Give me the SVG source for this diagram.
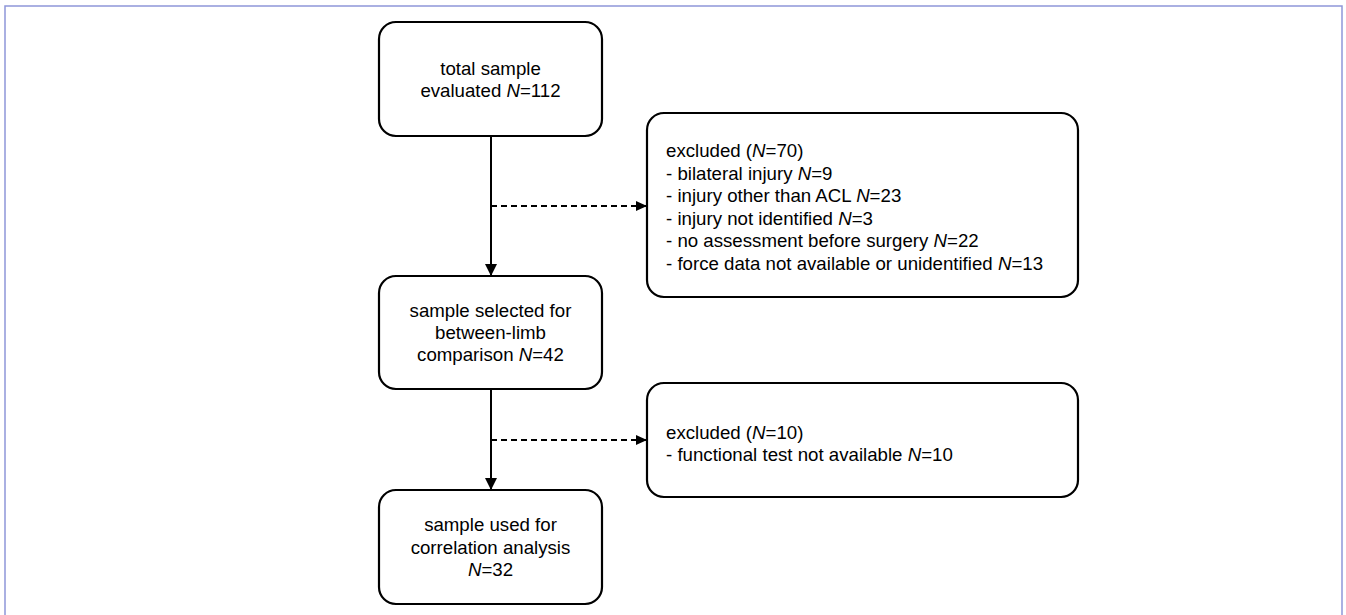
<svg xmlns="http://www.w3.org/2000/svg" width="1346" height="615" viewBox="0 0 1346 615">
  <style>
    .box { fill: #ffffff; stroke: #000000; stroke-width: 2.2; }
    .t { font-family: "Liberation Sans", Arial, sans-serif; font-size: 18.67px; fill: #000000; }
    .c { text-anchor: middle; }
    .i { font-style: italic; }
    .solid { stroke: #000000; stroke-width: 2; fill: none; }
    .dash { stroke: #000000; stroke-width: 2; fill: none; stroke-dasharray: 6 4; }
  </style>
  <defs>
    <marker id="ah" markerWidth="12" markerHeight="12" refX="12" refY="6" orient="auto" markerUnits="userSpaceOnUse">
      <path d="M0,0 L12,6 L0,12 Z" fill="#000000"/>
    </marker>
    <marker id="ahs" markerWidth="11" markerHeight="10" refX="11" refY="5" orient="auto" markerUnits="userSpaceOnUse">
      <path d="M0,0 L11,5 L0,10 Z" fill="#000000"/>
    </marker>
  </defs>
  <rect x="0" y="0" width="1346" height="615" fill="#ffffff"/>
  <rect x="5" y="6" width="1337" height="640" fill="none" stroke="#8e97d9" stroke-width="1.5"/>

  <g id="connectors">
    <line class="solid" x1="491" y1="136" x2="491" y2="276" marker-end="url(#ah)"/>
    <line class="dash" x1="491" y1="206" x2="647" y2="206" marker-end="url(#ahs)"/>
    <line class="solid" x1="491" y1="389" x2="491" y2="490" marker-end="url(#ah)"/>
    <line class="dash" x1="491" y1="440" x2="647" y2="440" marker-end="url(#ahs)"/>
  </g>

  <g id="total">
    <rect class="box" x="379" y="22" width="223" height="114" rx="17"/>
    <text class="t c" x="490.5" y="75">total sample</text>
    <text class="t c" x="490.5" y="97">evaluated <tspan class="i">N</tspan>=112</text>
  </g>

  <g id="excluded70">
    <rect class="box" x="647" y="113" width="431" height="184" rx="17"/>
    <text class="t" x="666" y="157">excluded (<tspan class="i">N</tspan>=70)</text>
    <text class="t" x="666" y="179.5">- bilateral injury <tspan class="i">N</tspan>=9</text>
    <text class="t" x="666" y="202">- injury other than ACL <tspan class="i">N</tspan>=23</text>
    <text class="t" x="666" y="224.5">- injury not identified <tspan class="i">N</tspan>=3</text>
    <text class="t" x="666" y="247">- no assessment before surgery <tspan class="i">N</tspan>=22</text>
    <text class="t" x="666" y="269.5">- force data not available or unidentified <tspan class="i">N</tspan>=13</text>
  </g>

  <g id="selected">
    <rect class="box" x="379" y="276" width="223" height="113" rx="17"/>
    <text class="t c" x="490.5" y="317">sample selected for</text>
    <text class="t c" x="490.5" y="339">between-limb</text>
    <text class="t c" x="490.5" y="361">comparison <tspan class="i">N</tspan>=42</text>
  </g>

  <g id="excluded10">
    <rect class="box" x="647" y="383" width="431" height="114" rx="17"/>
    <text class="t" x="666" y="438.5">excluded (<tspan class="i">N</tspan>=10)</text>
    <text class="t" x="666" y="461">- functional test not available <tspan class="i">N</tspan>=10</text>
  </g>

  <g id="used">
    <rect class="box" x="379" y="490" width="223" height="114" rx="17"/>
    <text class="t c" x="490.5" y="531">sample used for</text>
    <text class="t c" x="490.5" y="553.5">correlation analysis</text>
    <text class="t c" x="490.5" y="576"><tspan class="i">N</tspan>=32</text>
  </g>
</svg>
